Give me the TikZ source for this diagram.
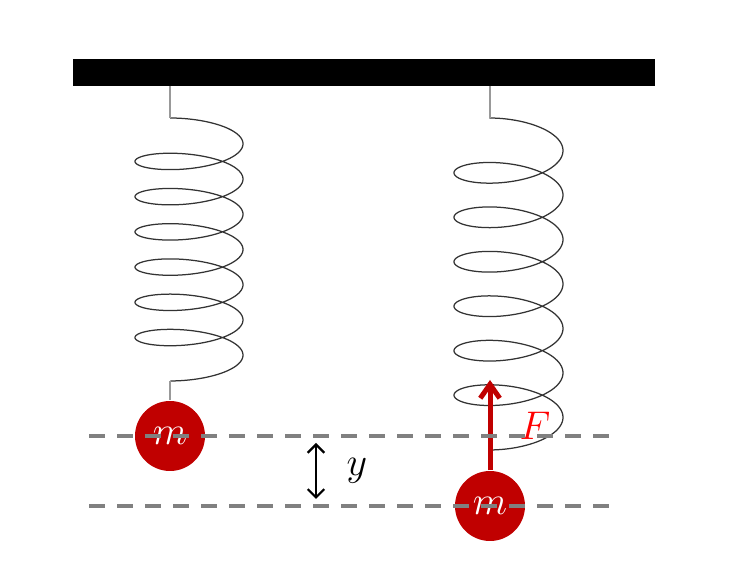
\documentclass[tikz,border=0pt]{standalone}
\usetikzlibrary{arrows.meta}
\definecolor{massred}{RGB}{192,0,0}
\tikzset{
  mass/.style={circle,fill=massred,minimum size=25.2pt,inner sep=0pt,text=white,font=\Large},
  lead/.style={draw=gray!80,line width=0.4pt},
  coil/.style={line width=0.45pt,black!80},
  level/.style={gray,line width=1.2pt,dash pattern=on 5.76pt off 4.32pt},
}
\begin{document}
\begin{tikzpicture}[x=0.36pt,y=-0.36pt]
        \useasboundingbox (0,0) rectangle (738,571);
        \fill (73,59) rectangle (655,86);
        \coordinate (top1) at (170,86);
        \coordinate (top2) at (490,86);
        \coordinate (s1) at (170,118);
        \coordinate (e1) at (170,381);
        \coordinate (s2) at (490,118);
        % springs
        \draw[coil] plot[domain=-1.9284:39.6275,samples=600,smooth]
          ({189+54*cos(\x r)},{118+5.606*(\x+1.9284)+16.02*(sin(\x r)+0.9367)});
        \draw[coil] plot[domain=-1.9284:39.6275,samples=600,smooth]
          ({508.5+54.5*cos(\x r)},{118+7.077*(\x+1.9284)+20.22*(sin(\x r)+0.9367)});
        \node[mass] (m1) at (170,436) {$m$};
        \node[mass] (m2) at (490,506) {$m$};
        \draw[lead] (top1) -- (s1);
        \draw[lead,line width=0.8pt] (e1) -- (m1.north);
        \draw[lead] (top2) -- (s2);
        % force
        \coordinate (ftip) at (490,380);
        \draw[massred,line width=1.8pt,-{Straight Barb[length=5pt,width=7pt]}] (m2.north) -- (ftip);
        \node[text=red,font=\Large] (F) at (535,426) {$F$};
        % displacement
        \coordinate (d1) at (316,443);
        \coordinate (d2) at (316,499);
        \draw[line width=0.8pt,{Straight Barb[length=3pt,width=6pt]}-{Straight Barb[length=3pt,width=6pt]}] (d1) -- (d2);
        \node[font=\Large] (ylab) at (357,471) {$y$};
        % levels
        \coordinate (l1a) at (89,436);
        \coordinate (l1b) at (609,436);
        \coordinate (l2a) at (89,506);
        \coordinate (l2b) at (609,506);
        \draw[level] (l1a) -- (l1b);
        \draw[level] (l2a) -- (l2b);
\end{tikzpicture}
\end{document}
